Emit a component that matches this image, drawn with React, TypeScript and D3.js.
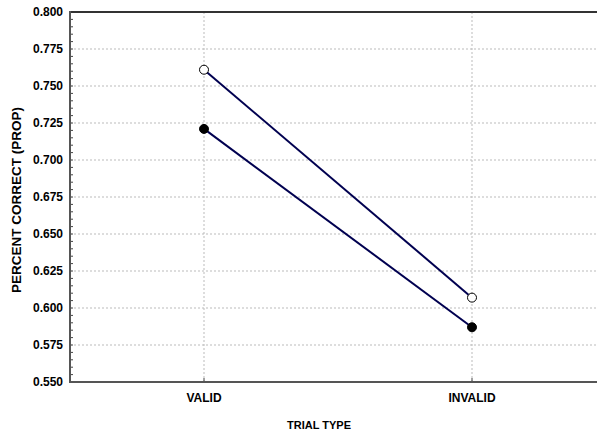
import React, { useRef, useEffect } from 'react';
import * as d3 from 'd3';

const categories = ['VALID', 'INVALID'];
const seriesOpen = [0.761, 0.607];
const seriesFilled = [0.721, 0.587];
const yTicks = [0.55, 0.575, 0.6, 0.625, 0.65, 0.675, 0.7, 0.725, 0.75, 0.775, 0.8];

const FONT = '"Liberation Sans", Arial, sans-serif';

const App: React.FC = () => {
    const svgRef = useRef<SVGSVGElement | null>(null);

    useEffect(() => {
        const svg = d3.select(svgRef.current);
        svg.selectAll('*').remove();

        const left = 70, top = 12, bottom = 382, right = 606;

        const x = d3.scaleBand().domain(categories).range([left, right]);
        const cx = (c: string) => x(c)! + x.bandwidth() / 2;
        const y = d3.scaleLinear().domain([0.55, 0.8]).range([bottom, top]);

        // grid
        svg.append('g')
            .selectAll('line')
            .data(yTicks.slice(1, -1))
            .enter()
            .append('line')
            .attr('x1', left).attr('x2', right)
            .attr('y1', d => y(d)).attr('y2', d => y(d))
            .attr('stroke', '#bbb')
            .attr('stroke-width', 1)
            .attr('stroke-dasharray', '2,2');

        svg.append('g')
            .selectAll('line')
            .data(categories)
            .enter()
            .append('line')
            .attr('x1', d => cx(d)).attr('x2', d => cx(d))
            .attr('y1', top).attr('y2', bottom)
            .attr('stroke', '#bbb')
            .attr('stroke-width', 1)
            .attr('stroke-dasharray', '2,2');

        // minor ticks on y axis
        const minor = d3.range(0.55, 0.8001, 0.005);
        svg.append('g')
            .selectAll('line')
            .data(minor)
            .enter()
            .append('line')
            .attr('x1', left).attr('x2', left + 3)
            .attr('y1', d => y(d)).attr('y2', d => y(d))
            .attr('stroke', '#444')
            .attr('stroke-width', 1);

        // x ticks
        svg.append('g')
            .selectAll('line')
            .data(categories)
            .enter()
            .append('line')
            .attr('x1', d => cx(d)).attr('x2', d => cx(d))
            .attr('y1', bottom).attr('y2', bottom - 4)
            .attr('stroke', '#444')
            .attr('stroke-width', 1);

        // frame
        svg.append('line')
            .attr('x1', left).attr('x2', right).attr('y1', top).attr('y2', top)
            .attr('stroke', '#333').attr('stroke-width', 2);
        svg.append('line')
            .attr('x1', left).attr('x2', right).attr('y1', bottom).attr('y2', bottom)
            .attr('stroke', '#555').attr('stroke-width', 2);
        svg.append('line')
            .attr('x1', left).attr('x2', left).attr('y1', top - 1).attr('y2', bottom + 1)
            .attr('stroke', '#555').attr('stroke-width', 2);

        // y tick labels
        svg.append('g')
            .selectAll('text')
            .data(yTicks)
            .enter()
            .append('text')
            .attr('x', left - 7)
            .attr('y', d => y(d))
            .attr('dy', '0.35em')
            .attr('text-anchor', 'end')
            .style('font-family', FONT)
            .style('font-weight', 'bold')
            .style('font-size', '12px')
            .text(d => d3.format('.3f')(d));

        // x tick labels
        svg.append('g')
            .selectAll('text')
            .data(categories)
            .enter()
            .append('text')
            .attr('x', d => cx(d))
            .attr('y', 402)
            .attr('text-anchor', 'middle')
            .style('font-family', FONT)
            .style('font-weight', 'bold')
            .style('font-size', '12px')
            .text(d => d);

        // axis titles
        svg.append('text')
            .attr('x', 319)
            .attr('y', 429)
            .attr('text-anchor', 'middle')
            .style('font-family', FONT)
            .style('font-weight', 'bold')
            .style('font-size', '11px')
            .text('TRIAL TYPE');

        svg.append('text')
            .attr('transform', `translate(21,${(top + bottom) / 2 + 3}) rotate(-90)`)
            .attr('text-anchor', 'middle')
            .style('font-family', FONT)
            .style('font-weight', 'bold')
            .style('font-size', '13.5px')
            .text('PERCENT CORRECT (PROP)');

        // series
        const line = d3.line<number>()
            .x((_, i) => cx(categories[i]))
            .y(d => y(d));

        const series = [
            { values: seriesOpen, fill: 'white' },
            { values: seriesFilled, fill: 'black' },
        ];

        series.forEach(s => {
            svg.append('path')
                .attr('d', line(s.values))
                .attr('fill', 'none')
                .attr('stroke', '#000050')
                .attr('stroke-width', 2);
            svg.append('g')
                .selectAll('circle')
                .data(s.values)
                .enter()
                .append('circle')
                .attr('cx', (_, i) => cx(categories[i]))
                .attr('cy', d => y(d))
                .attr('r', 4.5)
                .attr('fill', s.fill)
                .attr('stroke', 'black')
                .attr('stroke-width', 1);
        });
    }, []);

    return (
        <svg
            ref={svgRef}
            width={597}
            height={432}
            style={{ position: 'absolute', left: 0, top: 0, display: 'block', background: 'white' }}
        />
    );
};

export default App;
